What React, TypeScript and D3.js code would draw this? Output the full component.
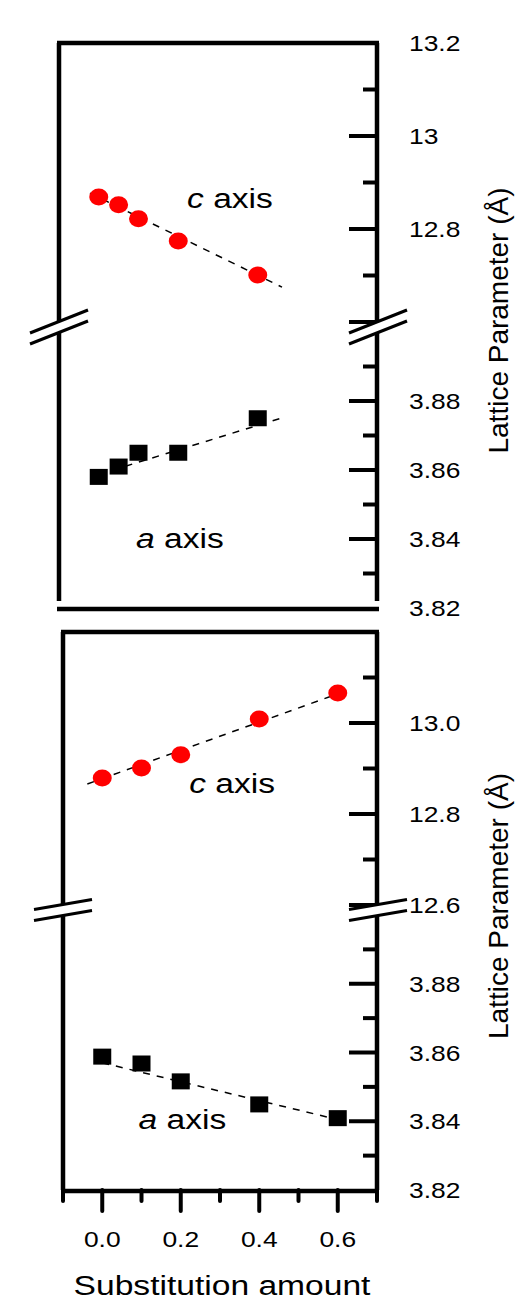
import * as d3 from "d3";

// values
const topX = [0, 0.05, 0.1, 0.2, 0.4];
const topC = [12.869, 12.852, 12.822, 12.774, 12.701];
const topA = [3.858, 3.861, 3.865, 3.865, 3.875];
const botX = [0, 0.1, 0.2, 0.4, 0.6];
const botC = [12.879, 12.901, 12.93, 13.009, 13.066];
const botA = [3.8588, 3.8568, 3.8516, 3.8449, 3.8409];

// dashed guide lines (end points)
const topCFitX = [-0.022, 0.461];
const topCFitY = [12.877, 12.675];
const topAFitX = [0.0, 0.469];
const topAFitY = [3.8587, 3.8754];
const botCFitX = [-0.038, 0.619];
const botCFitY = [12.866, 13.07];
const botAFitX = [0.0, 0.6];
const botAFitY = [3.857, 3.8405];

// tick values
const upperMajor = [13.2, 13.0, 12.8, 12.6];
const upperMinor = [13.1, 12.9, 12.7];
const lowerMajor = [3.88, 3.86, 3.84, 3.82];
const lowerMinor = [3.89, 3.87, 3.85, 3.83];
const topUpperLabels = ["13.2", "13", "12.8"];
const botUpperLabels = ["13.0", "12.8", "12.6"];
const lowerLabels = ["3.88", "3.86", "3.84", "3.82"];
const xMajor = [0, 0.2, 0.4, 0.6];
const xMinor = [-0.1, 0.1, 0.3, 0.5, 0.7];
const xLabels = ["0.0", "0.2", "0.4", "0.6"];

const font = "'Liberation Sans', Arial, Helvetica, sans-serif";
const SX = 1.2; // the picture is stretched sideways

function Txt({ x, y, size, anchor = "start", children }: any) {
  return (
    <text
      transform={`translate(${x},${y}) scale(${SX},1)`}
      fontSize={size}
      fontFamily={font}
      textAnchor={anchor}
      fill="#000"
    >
      {children}
    </text>
  );
}

function Break({ cx, cy, dx, dy, gap }: any) {
  // two slanted strokes with white between them
  const l1 = [cx - dx, cy - gap / 2 + dy, cx + dx, cy - gap / 2 - dy];
  const l2 = [cx - dx, cy + gap / 2 + dy, cx + dx, cy + gap / 2 - dy];
  return (
    <g>
      <polygon
        points={`${l1[0]},${l1[1]} ${l1[2]},${l1[3]} ${l2[2]},${l2[3]} ${l2[0]},${l2[1]}`}
        fill="#fff"
      />
      <line x1={l1[0]} y1={l1[1]} x2={l1[2]} y2={l1[3]} stroke="#000" strokeWidth={3} />
      <line x1={l2[0]} y1={l2[1]} x2={l2[2]} y2={l2[3]} stroke="#000" strokeWidth={3} />
    </g>
  );
}

function Panel(props: any) {
  const {
    left, right, top, upperBottom, lowerTop, bottom, breakY, breakDy,
    xs, cs, as, cFitX, cFitY, aFitX, aFitY, upperLabels, cLabel, aLabel, withXAxis,
  } = props;

  const x = d3.scaleLinear().domain([-0.1, 0.7]).range([left, right]);
  const yU = d3.scaleLinear().domain([12.6, 13.2]).range([upperBottom, top]);
  const yL = d3.scaleLinear().domain([3.82, 3.9]).range([bottom, lowerTop]);

  const cLine = d3.line<number>().x((d) => x(d)).y((_, i) => yU(cFitY[i]));
  const aLine = d3.line<number>().x((d) => x(d)).y((_, i) => yL(aFitY[i]));

  const bw = 4.5;
  const tw = 4;
  const labelX = right + 32;

  return (
    <g>
      {/* frame */}
      <line x1={left - 2} x2={right + 2} y1={top} y2={top} stroke="#000" strokeWidth={bw} />
      <line x1={left} x2={left} y1={top} y2={withXAxis ? bottom : bottom - 7} stroke="#000" strokeWidth={bw} />
      <line x1={right} x2={right} y1={top} y2={withXAxis ? bottom : bottom - 7} stroke="#000" strokeWidth={bw} />
      <line x1={left - 2} x2={right + 2} y1={bottom + 1} y2={bottom + 1} stroke="#000" strokeWidth={bw} />

      {/* right ticks */}
      {upperMajor.filter((v) => v < 13.15).map((v) => (
        <line key={"um" + v} x1={right - 28} x2={right} y1={yU(v)} y2={yU(v)} stroke="#000" strokeWidth={tw} />
      ))}
      {upperMinor.map((v) => (
        <line key={"un" + v} x1={right - 14} x2={right} y1={yU(v)} y2={yU(v)} stroke="#000" strokeWidth={tw} />
      ))}
      {lowerMajor.filter((v) => v > 3.825).map((v) => (
        <line key={"lm" + v} x1={right - 28} x2={right} y1={yL(v)} y2={yL(v)} stroke="#000" strokeWidth={tw} />
      ))}
      {lowerMinor.map((v) => (
        <line key={"ln" + v} x1={right - 14} x2={right} y1={yL(v)} y2={yL(v)} stroke="#000" strokeWidth={tw} />
      ))}

      {/* right tick labels */}
      {upperLabels.map((s: string) => (
        <Txt key={"ul" + s} x={labelX} y={yU(+s) + 8} size={22}>{s}</Txt>
      ))}
      {lowerLabels.map((s) => (
        <Txt key={"ll" + s} x={labelX} y={yL(+s) + 8} size={22}>{s}</Txt>
      ))}

      {/* axis breaks */}
      <Break cx={left} cy={breakY} dx={29} dy={breakDy} gap={11} />
      <Break cx={right + 1} cy={breakY} dx={29} dy={breakDy} gap={11} />

      {/* dashed guides */}
      <path d={cLine(cFitX) || ""} fill="none" stroke="#000" strokeWidth={1.5} strokeDasharray="7,7" />
      <path d={aLine(aFitX) || ""} fill="none" stroke="#000" strokeWidth={1.5} strokeDasharray="7,7" />

      {/* markers */}
      {xs.map((v: number, i: number) => (
        <ellipse key={"c" + i} cx={x(v)} cy={yU(cs[i])} rx={9.5} ry={8.5} fill="#ff0000" />
      ))}
      {xs.map((v: number, i: number) => (
        <rect key={"a" + i} x={x(v) - 9} y={yL(as[i]) - 8} width={18} height={16} fill="#000" />
      ))}

      {/* annotations */}
      <Txt x={x(cLabel[0])} y={yU(cLabel[1])} size={28} anchor="middle">
        <tspan fontStyle="italic">c</tspan> axis
      </Txt>
      <Txt x={x(aLabel[0])} y={yL(aLabel[1])} size={28} anchor="middle">
        <tspan fontStyle="italic">a</tspan> axis
      </Txt>

      {withXAxis && (
        <g>
          {xMajor.map((v) => (
            <line key={"xm" + v} x1={x(v)} x2={x(v)} y1={bottom} y2={bottom + 21} stroke="#000" strokeWidth={tw} strokeLinecap="round" />
          ))}
          {xMinor.map((v) => (
            <line key={"xn" + v} x1={x(v)} x2={x(v)} y1={bottom} y2={bottom + 11} stroke="#000" strokeWidth={tw} strokeLinecap="round" />
          ))}
          {xMajor.map((v, i) => (
            <Txt key={"xl" + v} x={x(v)} y={bottom + 57} size={22} anchor="middle">{xLabels[i]}</Txt>
          ))}
          <Txt x={(left + right) / 2 + 2} y={bottom + 105} size={28} anchor="middle">Substitution amount</Txt>
        </g>
      )}

      {/* y label */}
      <text
        transform={`translate(508,${(top + bottom) / 2 - 5}) rotate(-90)`}
        fontSize={28}
        fontFamily={font}
        textAnchor="middle"
        fill="#000"
      >
        Lattice Parameter (Å)
      </text>
    </g>
  );
}

export default function App() {
  return (
    <svg
      width={526}
      height={1303}
      style={{ position: "absolute", left: 0, top: 0, background: "#fff" }}
    >
      <Panel
        left={59} right={377} top={43} upperBottom={322} lowerTop={332} bottom={608}
        breakY={327} breakDy={11.5}
        xs={topX} cs={topC} as={topA}
        cFitX={topCFitX} cFitY={topCFitY} aFitX={topAFitX} aFitY={topAFitY}
        upperLabels={topUpperLabels}
        cLabel={[0.33, 12.845]} aLabel={[0.204, 3.8374]}
        withXAxis={false}
      />
      <Panel
        left={63} right={377} top={632} upperBottom={905} lowerTop={915} bottom={1190}
        breakY={910} breakDy={5}
        xs={botX} cs={botC} as={botA}
        cFitX={botCFitX} cFitY={botCFitY} aFitX={botAFitX} aFitY={botAFitY}
        upperLabels={botUpperLabels}
        cLabel={[0.331, 12.846]} aLabel={[0.204, 3.8377]}
        withXAxis={true}
      />
    </svg>
  );
}
